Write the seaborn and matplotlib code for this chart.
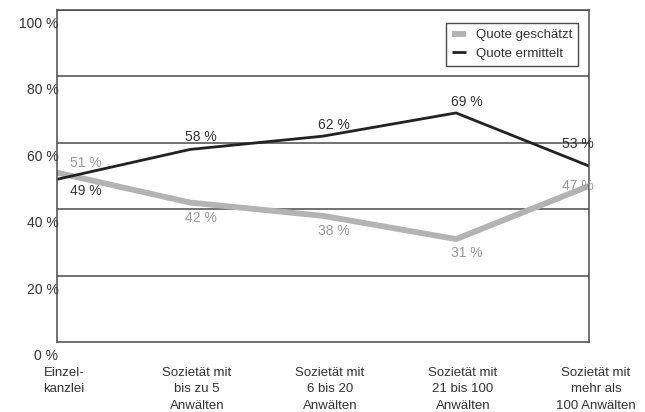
import matplotlib
matplotlib.use("Agg")
import matplotlib.pyplot as plt
import matplotlib.transforms as mtransforms
import seaborn as sns
import pandas as pd

# Kanzleigrößen und Quoten (in %)
kategorien = [
    "Einzel-\nkanzlei",
    "Sozietät mit\nbis zu 5\nAnwälten",
    "Sozietät mit\n6 bis 20\nAnwälten",
    "Sozietät mit\n21 bis 100\nAnwälten",
    "Sozietät mit\nmehr als\n100 Anwälten",
]
quote_geschaetzt = [51, 42, 38, 31, 47]
quote_ermittelt = [49, 58, 62, 69, 53]
serien = ["Quote geschätzt", "Quote ermittelt"]
y_ticks = [0, 20, 40, 60, 80, 100]
y_labels = ["0 %", "20 %", "40 %", "60 %", "80 %", "100 %"]

sns.set_style("white")
plt.rcParams["font.family"] = ["Liberation Sans", "DejaVu Sans"]

df = pd.DataFrame({
    "pos": list(range(len(kategorien))) * 2,
    "wert": quote_geschaetzt + quote_ermittelt,
    "serie": [serien[0]] * len(kategorien) + [serien[1]] * len(kategorien),
})

fig = plt.figure(figsize=(6.45, 4.12), dpi=100)
ax = fig.add_axes([57 / 645, 70 / 412, 532 / 645, 332 / 412])

farben = {serien[0]: "#b3b3b3", serien[1]: "#222222"}
breiten = {serien[0]: 4.2, serien[1]: 2.0}

for s in serien:
    sns.lineplot(data=df[df["serie"] == s], x="pos", y="wert", ax=ax,
                 color=farben[s], linewidth=breiten[s], label=s,
                 solid_joinstyle="miter", solid_capstyle="butt")

ax.set_xlim(0, len(kategorien) - 1)
ax.set_ylim(0, 100)
ax.set_xlabel("")
ax.set_ylabel("")

# Gitterlinien
for y in y_ticks[1:]:
    ax.axhline(y, color="#4a4a4a", linewidth=1.1, zorder=0)

for side in ["left", "right", "top", "bottom"]:
    ax.spines[side].set_visible(True)
    ax.spines[side].set_color("#4a4a4a")
    ax.spines[side].set_linewidth(1.1)

# Achsenbeschriftungen
ax.set_yticks(y_ticks)
ax.set_yticklabels(y_labels, fontsize=10, color="#333333")
ax.tick_params(axis="y", length=0, pad=-1)
for lbl in ax.get_yticklabels():
    lbl.set_verticalalignment("top")
    lbl.set_transform(lbl.get_transform() +
                      mtransforms.ScaledTranslation(0, -7 / 100, fig.dpi_scale_trans))

ax.set_xticks(range(len(kategorien)))
ax.set_xticklabels(kategorien, fontsize=9.5, color="#333333", linespacing=1.5)
ax.tick_params(axis="x", direction="out", length=6, width=1.1, color="#4a4a4a", pad=12)
for lbl in ax.get_xticklabels():
    lbl.set_transform(lbl.get_transform() +
                      mtransforms.ScaledTranslation(7 / 100, 0, fig.dpi_scale_trans))

# Wertbeschriftungen
def beschriften(werte, farbe, dy_list):
    n = len(werte)
    for i, (v, dy) in enumerate(zip(werte, dy_list)):
        if i == 0:
            dx, ha = 13, "left"
        elif i == n - 1:
            dx, ha = -11, "center"
        else:
            dx, ha = 11, "center"
        ax.annotate(f"{v} %", (i, v), xytext=(dx * 0.72, dy * 0.72),
                    textcoords="offset points", ha=ha, va="center",
                    fontsize=10, color=farbe, annotation_clip=False)

beschriften(quote_ermittelt, "#333333", [-12, 12, 11, 11, 22])
beschriften(quote_geschaetzt, "#9a9a9a", [10, -15, -15, -14, 0])

leg = ax.legend(loc="upper right", bbox_to_anchor=(1 - 11 / 532, 1 - 13 / 332),
                borderaxespad=0, fontsize=9.5, frameon=True, fancybox=False,
                handlelength=1.1, handletextpad=0.7, borderpad=0.45,
                labelspacing=0.5, framealpha=1)
leg.get_frame().set_edgecolor("#4a4a4a")
leg.get_frame().set_linewidth(1.0)
for t in leg.get_texts():
    t.set_color("#333333")

fig.savefig("out.png", dpi=100)
